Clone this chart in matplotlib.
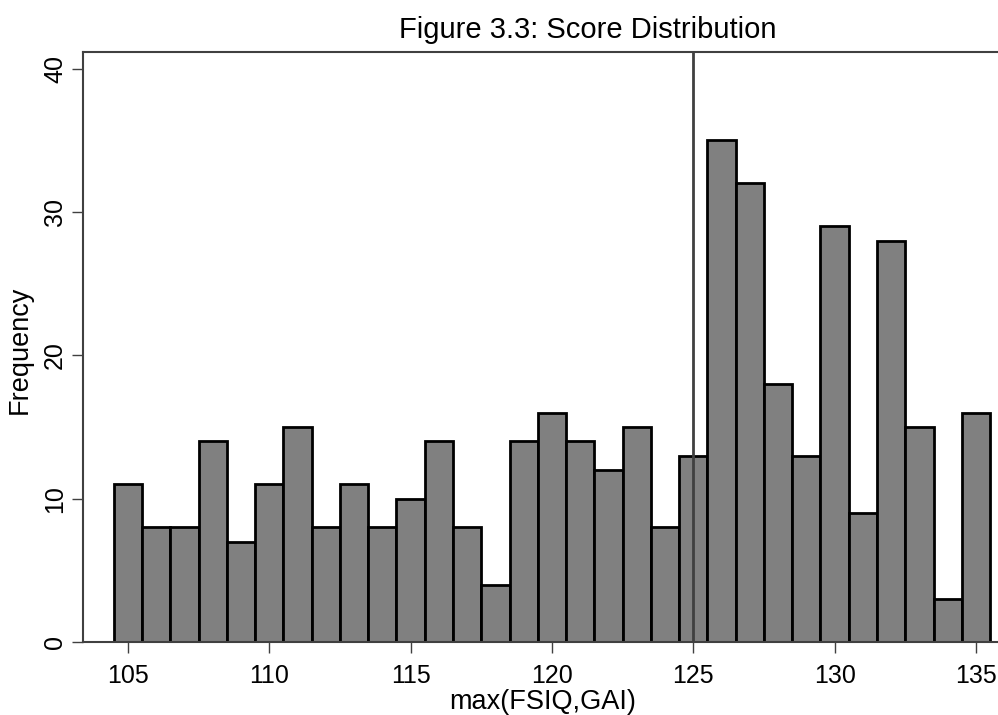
import matplotlib
matplotlib.use("Agg")
import matplotlib.pyplot as plt

scores = list(range(105, 136))
freqs = [11, 8, 8, 14, 7, 11, 15, 8, 11, 8, 10, 14, 8, 4, 14, 16, 14, 12, 15, 8,
         13, 35, 32, 18, 13, 29, 9, 28, 15, 3, 16]
xticks = [105, 110, 115, 120, 125, 130, 135]
yticks = [0, 10, 20, 30, 40]
cutoff = 125

plt.rcParams['font.family'] = ['Liberation Sans', 'DejaVu Sans']

fig = plt.figure(figsize=(9.98, 7.15), dpi=100)
ax = fig.add_axes([83/998, 73/715, 1 - 83/998, (642-52)/715])

ax.bar(scores, freqs, width=1.0, color='#808080', edgecolor='black', linewidth=2)
ax.axvline(cutoff, color='#404040', linewidth=2)

ax.set_xlim(103.41, 135.78)
ax.set_ylim(0, 41.17)
ax.set_xticks(xticks)
ax.set_yticks(yticks)
ax.set_yticklabels([str(v) for v in yticks], rotation=90, va='center')
ax.tick_params(axis='both', labelsize=18, length=8, width=1, color='#404040')
ax.tick_params(axis='x', pad=8)
ax.tick_params(axis='y', pad=3.5)

for s in ['left', 'bottom', 'top']:
    ax.spines[s].set_color('#404040')
    ax.spines[s].set_linewidth(1.5)
ax.spines['right'].set_visible(False)

fig.text(543/998, 1 - 702/715, 'max(FSIQ,GAI)', fontsize=19.5, ha='center', va='center')
fig.text(20/998, 1 - 350/715, 'Frequency', fontsize=19.5, ha='center', va='center',
         rotation=90)
fig.text(588/998, 1 - 30/715, 'Figure 3.3: Score Distribution', fontsize=21,
         ha='center', va='center')

fig.savefig('out.png', dpi=100)
